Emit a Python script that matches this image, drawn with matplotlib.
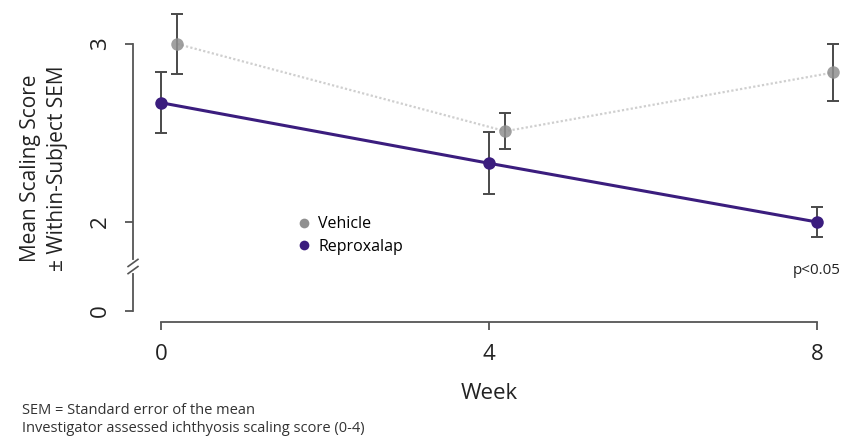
import numpy as np
import matplotlib.pyplot as plt
from matplotlib.lines import Line2D

plt.rcParams['font.family'] = ['Open Sans', 'DejaVu Sans']

# mean scaling score by study week
weeks = [0, 4, 8]
vehicle_mean = [3.00, 2.51, 2.84]
vehicle_sem = [0.17, 0.10, 0.16]
reprox_mean = [2.67, 2.33, 2.00]
reprox_sem = [0.17, 0.175, 0.085]

# broken y axis: score 0 is drawn just below the 2-3 segment
ytick_pos = [1.5, 2, 3]
ytick_labels = ['0', '2', '3']
xtick_labels = ['0', '4', '8']

purple = '#3b1d7e'
grey_pt = '#8f8f8f'
bar_col = '#4a4a4a'
axis_col = '#555555'

fig = plt.figure(figsize=(8.41, 4.48), dpi=100)
ax = fig.add_axes([0, 0, 1, 1])
ax.patch.set_alpha(0)

# pixel grid: 82 px per week, 178 px per score unit
ax.set_xlim(-161 / 82, 8 + 24 / 82)
ax.set_ylim(2 - 226 / 178, 2 + 222 / 178)

vx = np.array(weeks) + 0.2
ax.plot(vx, vehicle_mean, color='#cfcfcf', lw=1.6, ls=(0, (1, 1)), zorder=1)
ax.errorbar(vx, vehicle_mean, yerr=vehicle_sem, fmt='none', ecolor=bar_col,
            elinewidth=1.4, capsize=4, capthick=1.4, zorder=2)
ax.plot(vx, vehicle_mean, 'o', color=grey_pt, ms=9, alpha=0.85, mec='none', zorder=3)

ax.plot(weeks, reprox_mean, color=purple, lw=2.2, zorder=4)
ax.errorbar(weeks, reprox_mean, yerr=reprox_sem, fmt='none', ecolor=bar_col,
            elinewidth=1.4, capsize=4, capthick=1.4, zorder=5)
ax.plot(weeks, reprox_mean, 'o', color=purple, ms=9, mec='none', zorder=6)

for s in ['top', 'right']:
    ax.spines[s].set_visible(False)
ax.spines['left'].set_position(('data', -28 / 82))
ax.spines['left'].set_bounds(1.5, 3)
ax.spines['bottom'].set_position(('data', 2 - 100 / 178))
ax.spines['bottom'].set_bounds(0, 8)
for s in ['left', 'bottom']:
    ax.spines[s].set_color(axis_col)
    ax.spines[s].set_linewidth(1.3)

ax.set_xticks(weeks)
ax.set_xticklabels(xtick_labels)
ax.set_yticks(ytick_pos)
ax.set_yticklabels(ytick_labels, rotation=90, va='center')
ax.tick_params(axis='both', direction='out', length=6, width=1.3, color=axis_col,
               labelsize=16, labelcolor='#222222')
ax.tick_params(axis='x', pad=10)
ax.tick_params(axis='y', pad=10)

# axis break marks
bx = -28 / 82
by = 1.75
ax.plot([bx, bx], [by - 0.025, by + 0.025], color='white', lw=3, zorder=7, clip_on=False)
for dy in (-0.02, 0.02):
    ax.plot([bx - 0.06, bx + 0.06], [by + dy - 0.02, by + dy + 0.02],
            color=axis_col, lw=1.2, zorder=8, clip_on=False)

ax.set_xlabel('Week', fontsize=16, color='#222222')
ax.xaxis.set_label_coords(489 / 841, 1 - 383 / 448)
ax.set_ylabel('Mean Scaling Score\n\u00b1 Within-Subject SEM', fontsize=15,
              color='#222222', linespacing=1.35)
ax.yaxis.set_label_coords(68 / 841, 1 - 168 / 448)

ax.text(8, 1.73, 'p<0.05', ha='center', va='center', fontsize=11, color='#222222')

handles = [Line2D([], [], ls='none', marker='o', ms=7, color=grey_pt, mec='none'),
           Line2D([], [], ls='none', marker='o', ms=7, color=purple, mec='none')]
ax.legend(handles, ['Vehicle', 'Reproxalap'], loc='upper left',
          bbox_to_anchor=(280 / 841, 1 - 202 / 448), frameon=False, fontsize=11.5,
          handletextpad=0.3, labelspacing=0.4, handlelength=1.2)

fig.text(22 / 841, 1 - 410 / 448, 'SEM = Standard error of the mean',
         fontsize=10.5, va='center', color='#333333')
fig.text(22 / 841, 1 - 428 / 448, 'Investigator assessed ichthyosis scaling score (0-4)',
         fontsize=10.5, va='center', color='#333333')

fig.savefig('out.png', dpi=100)
